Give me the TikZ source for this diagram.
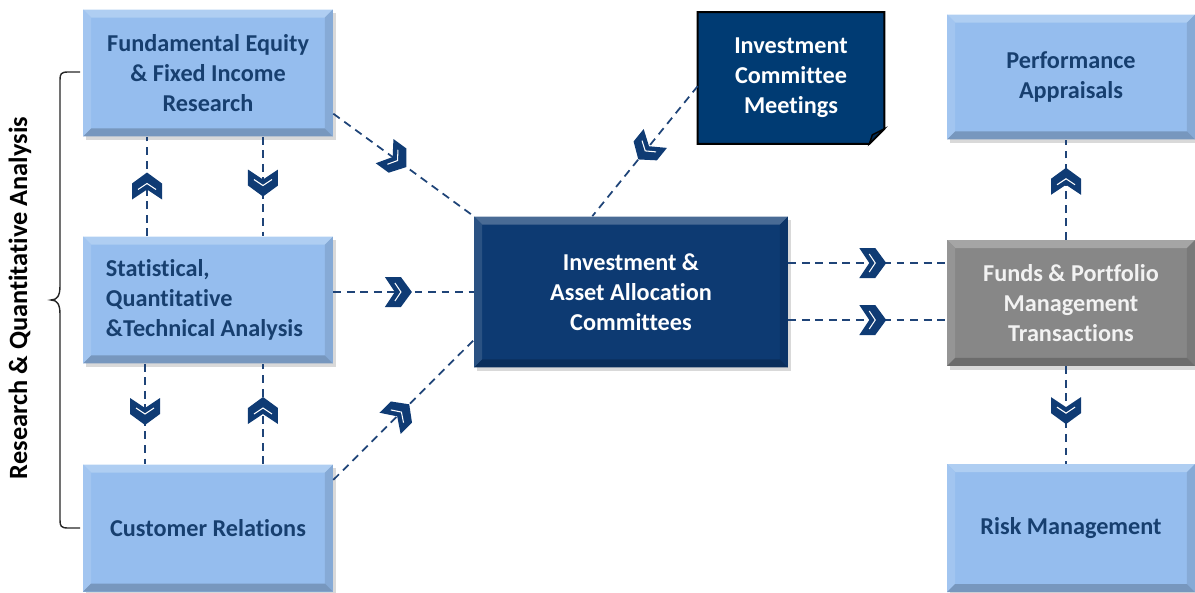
\documentclass[tikz,border=0pt]{standalone}
\usepackage{fontspec}
\setmainfont{Carlito}[Ligatures=NoCommon]
\usepackage{xcolor}
\usetikzlibrary{positioning, shadows, backgrounds, calc}

\definecolor{boxblue}{HTML}{95BDEE}
\definecolor{navy}{HTML}{0D3A72}
\definecolor{notenavy}{HTML}{003B73}
\definecolor{boxgray}{HTML}{878787}
\definecolor{textblue}{HTML}{173F6F}
\definecolor{linkblue}{HTML}{1F4478}
\definecolor{chevblue}{HTML}{0F3B74}

\begin{document}
\begin{tikzpicture}[
    x=0.02cm, y=-0.02cm,
    font={\fontsize{13.8}{17}\selectfont\bfseries},
    bevel/.style={path picture={
        \coordinate (bnw) at (path picture bounding box.north west);
        \coordinate (bne) at (path picture bounding box.north east);
        \coordinate (bsw) at (path picture bounding box.south west);
        \coordinate (bse) at (path picture bounding box.south east);
        \fill[#1!75!white] (bnw) -- (bne) -- ([shift={(-8,8)}]bne) -- ([shift={(8,8)}]bnw) -- cycle;
        \fill[#1!88!white] (bnw) -- ([shift={(8,8)}]bnw) -- ([shift={(8,-8)}]bsw) -- (bsw) -- cycle;
        \fill[#1!90!black] (bne) -- (bse) -- ([shift={(-8,-8)}]bse) -- ([shift={(-8,8)}]bne) -- cycle;
        \fill[#1!80!black] (bsw) -- (bse) -- ([shift={(-8,-8)}]bse) -- ([shift={(8,-8)}]bsw) -- cycle;
    }},
    block/.style={rectangle, fill=#1, bevel=#1, text=textblue, align=center,
        minimum width=5cm, minimum height=2.54cm,
        drop shadow={shadow xshift=1.5pt, shadow yshift=-2pt, opacity=.3}},
    link/.style={draw=linkblue, line width=1pt, dash pattern=on 4.5pt off 3.2pt},
    onlink/.style={sloped, allow upside down},
    chev/.pic={
        \fill[chevblue] (-13,-15) -- (3,-15) -- (14,0) -- (3,15) -- (-13,15) -- (-3,0) -- cycle;
        \draw[white, solid, line width=0.6pt] (-3,-9) -- (3,0) -- (-3,9);
    },
]
    \useasboundingbox (0,0) rectangle (1195,592);

    % research column
    \node[block=boxblue] (fund) at (208,73) {Fundamental Equity\\\& Fixed Income\\Research};
    \node[block=boxblue, align=left] (stat) at (208,300) {Statistical,\\Quantitative\\\&Technical Analysis\hspace*{4pt}};
    \node[block=boxblue] (cust) at (208,528) {Customer Relations};

    % committees
    \node[block=navy, text=white, minimum width=6.28cm, minimum height=3.02cm] (iac) at (631,292) {Investment \&\\Asset Allocation\\Committees};
    \node[text=white, align=center, minimum width=3.72cm, minimum height=2.62cm] (icm) at (791,78) {Investment\\Committee\\Meetings};
    \begin{scope}[on background layer]
        \filldraw[fill=notenavy, draw=black, line width=1.1pt] (icm.north west) -- (icm.north east)
            -- ([shift={(0,-15)}]icm.south east) -- ([shift={(-15,0)}]icm.south east) -- (icm.south west) -- cycle;
        \filldraw[fill=notenavy!75!black, draw=black, line width=0.8pt] ([shift={(0,-15)}]icm.south east)
            -- ([shift={(-15,0)}]icm.south east) -- ([shift={(-12,-9)}]icm.south east) -- cycle;
    \end{scope}

    % portfolio column
    \node[block=boxblue, minimum width=4.96cm, minimum height=2.5cm] (perf) at (1071,77) {Performance\\Appraisals};
    \node[block=boxgray, text=white!95!black, minimum width=4.96cm, minimum height=2.52cm] (funds) at (1071,303) {Funds \& Portfolio\\Management\\Transactions};
    \node[block=boxblue, minimum width=4.96cm, minimum height=2.56cm] (risk) at (1071,528) {Risk Management};

    % side bracket
    \node[rotate=90, text=black, font={\fontsize{15}{18}\selectfont\bfseries}] (side) at (20,298) {Research \& Quantitative Analysis};
    \draw[black!85, line width=0.8pt] (80,72) -- (68,72) .. controls (61,72) and (60,74) .. (60,80)
        -- (60,286) .. controls (60,296) and (57,300) .. (51,300) .. controls (57,300) and (60,304) .. (60,314)
        -- (60,520) .. controls (60,526) and (61,528) .. (68,528) -- (80,528);

    % links into the committees
    \draw[link] (fund.-18.6) -- pic[pos=.44, onlink]{chev} (iac.north west);
    \draw[link] (icm.185) -- pic[pos=.48, onlink]{chev} (iac.117);
    \draw[link] (iac.west -| stat.east) -- pic[pos=.46, onlink]{chev} (iac.west);
    \draw[link] (cust.21.5) -- pic[pos=.47, onlink]{chev} (iac.197);

    % links inside the research column
    \draw[link] ([xshift=-1.22cm]stat.north) -- pic[pos=.5, onlink]{chev} ([xshift=-1.22cm]fund.south);
    \draw[link] ([xshift=1.1cm]fund.south) -- pic[pos=.46, onlink]{chev} ([xshift=1.1cm]stat.north);
    \draw[link] ([xshift=-1.26cm]stat.south) -- pic[pos=.47, onlink]{chev} ([xshift=-1.26cm]cust.north);
    \draw[link] ([xshift=1.1cm]cust.north) -- pic[pos=.53, onlink]{chev} ([xshift=1.1cm]stat.south);

    % links out to the portfolio side
    \coordinate (out1) at ([yshift=0.58cm]iac.east);
    \coordinate (out2) at ([yshift=-0.56cm]iac.east);
    \draw[link] (out1) -- pic[pos=.53, onlink]{chev} (out1 -| funds.west);
    \draw[link] (out2) -- pic[pos=.53, onlink]{chev} (out2 -| funds.west);
    \draw[link] ([xshift=-0.1cm]funds.north) -- pic[pos=.58, onlink]{chev} ([xshift=-0.1cm]perf.south);
    \draw[link] ([xshift=-0.1cm]funds.south) -- pic[pos=.45, onlink]{chev} ([xshift=-0.1cm]risk.north);
\end{tikzpicture}
\end{document}
